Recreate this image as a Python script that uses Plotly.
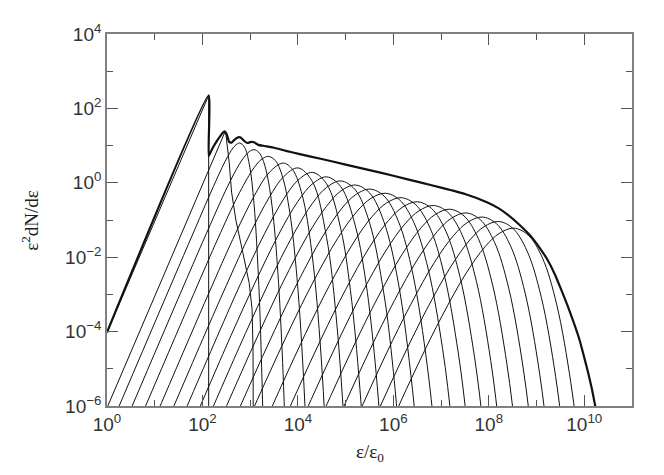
import numpy as np
import plotly.graph_objects as go

# every number below is a log10 value

# total spectrum (thick line)
total_lx = [0.00, 2.13, 2.13, 2.20, 2.30, 2.38, 2.44, 2.47, 2.51, 2.56, 2.61, 2.68, 2.75,
            2.80, 2.87, 2.94, 3.02, 3.08, 3.17, 3.30, 3.48, 3.75, 4.04, 4.50, 5.00, 5.50,
            6.00, 6.56, 7.00, 7.50, 7.96, 8.20, 8.40, 8.60, 8.87, 9.05, 9.22, 9.38, 9.50,
            9.65, 9.78, 9.90, 9.99, 10.08, 10.16, 10.26]
total_ly = [-4.02, 2.35, 0.72, 0.90, 1.12, 1.27, 1.36, 1.38, 1.30, 1.10, 1.08, 1.17, 1.22,
            1.22, 1.13, 1.07, 1.10, 1.09, 1.02, 0.99, 0.95, 0.86, 0.77, 0.64, 0.49, 0.34,
            0.19, 0.01, -0.13, -0.30, -0.52, -0.68, -0.86, -1.08, -1.42, -1.72, -2.05, -2.45, -2.82,
            -3.30, -3.76, -4.22, -4.65, -5.10, -5.54, -6.20]

# injected component (thin, cut off at 10^2.13)
inj_lx = [-0.5, 2.13, 2.13]
inj_ly = [-5.52, 2.35, -7.0]

# first scattered generation
gen0_lx = [-0.6, 1.0, 2.0, 2.30, 2.40, 2.45, 2.47, 2.49, 2.52, 2.56, 2.61, 2.70, 2.85,
           2.98, 3.04, 3.06, 3.065]
gen0_ly = [-7.85, -3.05, -0.05, 0.85, 1.18, 1.33, 1.36, 1.32, 1.05, 0.55, -0.25, -1.00, -1.90,
           -2.70, -3.40, -4.50, -7.0]

# later generations: peak position, peak height, and which shape they follow
peak_lx = [2.78, 3.08, 3.38, 3.69, 4.00, 4.30, 4.60, 4.90, 5.20, 5.51,
           5.83, 6.16, 6.50, 6.84, 7.18, 7.52, 7.86, 8.20, 8.52]
peak_ly = [1.07, 0.89, 0.71, 0.53, 0.40, 0.28, 0.16, 0.05, -0.06, -0.17,
           -0.28, -0.40, -0.51, -0.61, -0.71, -0.81, -0.92, -1.04, -1.22]
shape_of = [0, 1, 2, 3, 4, 5, 6, 7, 8, 9, 10, 10, 10, 10, 10, 10, 10, 10, 10]

# curve shapes, offsets from the peak (sharp early ones -> broad late ones)
shape_du = [
    [-4, -1, -0.5, -0.25, -0.1, 0, 0.1, 0.2, 0.3, 0.4, 0.45, 0.5],
    [-4, -1, -0.5, -0.25, -0.1, 0, 0.1, 0.2, 0.3, 0.4, 0.5, 0.6, 0.7],
    [-4, -1.5, -1, -0.6, -0.3, -0.15, 0, 0.15, 0.3, 0.45, 0.6, 0.75, 0.9],
    [-4, -1.5, -1, -0.6, -0.3, 0, 0.2, 0.4, 0.6, 0.8, 1.0],
    [-4, -2, -1.5, -1, -0.6, -0.3, 0, 0.3, 0.6, 0.8, 1.0, 1.1],
    [-4, -2, -1.5, -1, -0.6, -0.3, 0, 0.3, 0.6, 0.8, 1.0, 1.2],
    [-4, -2.5, -2, -1.5, -1, -0.6, -0.3, 0, 0.3, 0.6, 0.8, 1.0, 1.2],
    [-4, -2.5, -2, -1.5, -1, -0.6, -0.3, 0, 0.3, 0.6, 0.9, 1.1, 1.3],
    [-4, -3, -2.5, -2, -1.5, -1, -0.6, -0.3, 0, 0.3, 0.6, 0.9, 1.2, 1.4],
    [-4, -3, -2.5, -2, -1.5, -1, -0.6, -0.3, 0, 0.3, 0.6, 0.9, 1.2, 1.4, 1.6],
    [-4, -3, -2.5, -2, -1.5, -1, -0.6, -0.3, 0, 0.3, 0.6, 0.9, 1.2, 1.4, 1.6],
]
shape_dy = [
    [-11.5, -2.50, -1.025, -0.361, -0.075, 0, -0.111, -0.56, -1.63, -3.8, -5.59, -8.05],
    [-11.25, -2.26, -0.85, -0.276, -0.053, 0, -0.069, -0.319, -0.84, -1.76, -3.29, -5.72, -9.45],
    [-11.0, -3.51, -2.05, -0.965, -0.306, -0.088, 0, -0.117, -0.56, -1.51, -3.25, -6.24, -11.2],
    [-10.8, -3.33, -1.90, -0.87, -0.266, 0, -0.178, -0.86, -2.38, -5.27, -10.4],
    [-10.6, -4.62, -3.16, -1.76, -0.79, -0.236, 0, -0.36, -1.87, -3.98, -7.54, -10.1],
    [-10.4, -4.44, -2.99, -1.65, -0.72, -0.212, 0, -0.306, -1.53, -3.17, -5.83, -9.97],
    [-10.2, -5.73, -4.26, -2.85, -1.54, -0.66, -0.193, 0, -0.266, -1.30, -2.62, -4.74, -7.92],
    [-10.0, -5.55, -4.10, -2.71, -1.45, -0.61, -0.174, 0, -0.236, -1.12, -3.02, -5.12, -8.16],
    [-9.81, -6.84, -5.37, -3.94, -2.58, -1.36, -0.57, -0.16, 0, -0.21, -0.98, -2.60, -5.49, -8.43],
    [-9.62, -6.66, -5.21, -3.80, -2.47, -1.29, -0.533, -0.149, 0, -0.192, -0.88, -2.29, -4.75, -7.20, -10.5],
    [-9.42, -6.48, -5.04, -3.65, -2.36, -1.22, -0.50, -0.14, 0, -0.18, -0.79, -2.04, -4.17, -6.26, -9.04],
]

x_major = [0, 2, 4, 6, 8, 10]
x_minor = [1, 3, 5, 7, 9]
y_major = [-6, -4, -2, 0, 2, 4]
y_minor = [-5, -3, -1, 1, 3]

INK = "#111111"
FRAME = "#808080"


def pow10(v):
    return np.power(10.0, np.asarray(v, dtype=float))


def dec_label(d):
    return "10<sup>" + str(d).replace("-", "\u2212") + "</sup>"


fig = go.Figure()

for k in range(len(peak_lx)):
    s = shape_of[k]
    fig.add_trace(go.Scatter(
        x=pow10(np.add(peak_lx[k], shape_du[s])),
        y=pow10(np.add(peak_ly[k], shape_dy[s])),
        mode="lines", line=dict(color=INK, width=1, shape="spline", smoothing=1.0),
        hoverinfo="skip",
    ))

fig.add_trace(go.Scatter(x=pow10(gen0_lx), y=pow10(gen0_ly), mode="lines",
                         line=dict(color=INK, width=1), hoverinfo="skip"))
fig.add_trace(go.Scatter(x=pow10(inj_lx), y=pow10(inj_ly), mode="lines",
                         line=dict(color=INK, width=1), hoverinfo="skip"))
fig.add_trace(go.Scatter(x=pow10(total_lx), y=pow10(total_ly), mode="lines",
                         line=dict(color=INK, width=2.2, shape="spline", smoothing=0.4),
                         hoverinfo="skip"))

tick_font = dict(family="Liberation Sans, Arial, sans-serif", size=19, color="#333333")
axis_common = dict(
    type="log", showgrid=False, zeroline=False,
    showline=True, linecolor=FRAME, linewidth=1.6, mirror="allticks",
    ticks="inside", ticklen=11, tickwidth=1.3, tickcolor="#555555",
    tickfont=tick_font,
)

# the page adds an 8px body margin, so the figure is drawn slightly smaller
fig.update_layout(
    width=656, height=467,
    margin=dict(l=99, r=32, t=26, b=69),
    paper_bgcolor="white", plot_bgcolor="white",
    showlegend=False,
    xaxis=dict(
        **axis_common, range=[0, 11],
        tickvals=pow10(x_major).tolist(), ticktext=[dec_label(d) for d in x_major],
        minor=dict(tickvals=pow10(x_minor).tolist(), ticks="inside", ticklen=6,
                   tickwidth=1.3, tickcolor="#555555"),
    ),
    yaxis=dict(
        **axis_common, range=[-6, 4],
        tickvals=pow10(y_major).tolist(), ticktext=[dec_label(d) for d in y_major],
        minor=dict(tickvals=pow10(y_minor).tolist(), ticks="inside", ticklen=6,
                   tickwidth=1.3, tickcolor="#555555"),
    ),
    annotations=[
        dict(text="\u03b5/\u03b5<sub>0</sub>", xref="paper", yref="paper",
             x=0.5, y=-0.125, xanchor="center", yanchor="middle", showarrow=False,
             font=dict(family="Liberation Serif, serif", size=19, color="#222222")),
        dict(text="\u03b5<sup>2</sup>dN/d\u03b5", xref="paper", yref="paper",
             x=-0.147, y=0.5, xanchor="center", yanchor="middle", showarrow=False,
             textangle=-90,
             font=dict(family="Liberation Serif, serif", size=19, color="#222222")),
    ],
)

fig.write_html("out.html")
